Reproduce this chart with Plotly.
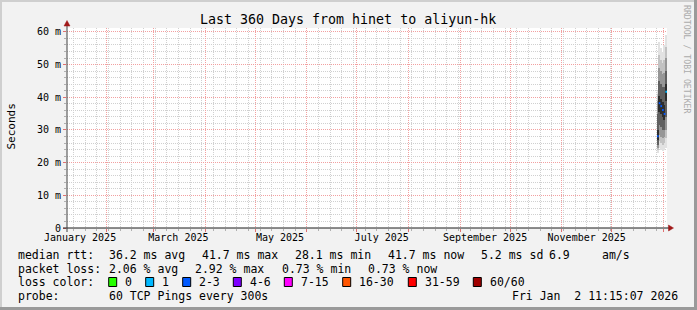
import plotly.graph_objects as go
import pandas as pd

# ---------------- data ----------------
col_dates = ["2025-12-28 17:00", "2025-12-29 17:00", "2025-12-30 17:00",
             "2025-12-31 17:00", "2026-01-01 17:00", "2026-01-02 17:00"]
rtt_min = [23.0, 24.5, 24.0, 23.5, 24.0, 24.5]
rtt_p05 = [23.8, 26.5, 26.0, 25.5, 26.0, 27.5]
rtt_p10 = [24.5, 28.5, 28.0, 27.5, 28.0, 30.0]
rtt_p20 = [25.5, 31.5, 31.0, 30.0, 30.0, 34.0]
rtt_p35 = [27.0, 35.5, 35.0, 34.0, 33.0, 39.0]
rtt_median = [28.1, 38.2, 37.3, 36.1, 34.9, 41.7]
rtt_p65 = [30.0, 40.5, 39.5, 38.5, 37.5, 44.0]
rtt_p80 = [35.0, 45.0, 44.0, 43.0, 43.0, 48.0]
rtt_p90 = [39.0, 49.0, 48.0, 47.0, 47.5, 52.0]
rtt_p95 = [41.0, 53.0, 51.5, 50.5, 51.5, 55.5]
rtt_max = [42.0, 57.0, 55.0, 54.0, 56.0, 59.0]
loss_count = [2, 2, 2, 2, 2, 1]

x_range = ["2025-01-08 04:20", "2026-01-03 04:20"]
month_starts = ["2025-02-01", "2025-03-01", "2025-04-01", "2025-05-01", "2025-06-01",
                "2025-07-01", "2025-08-01", "2025-09-01", "2025-10-01", "2025-11-01",
                "2025-12-01", "2026-01-01"]
month_label_dates = ["2025-01-16", "2025-03-16", "2025-05-16", "2025-07-16",
                     "2025-09-16", "2025-11-16"]
month_labels = ["January 2025", "March 2025", "May 2025", "July 2025",
                "September 2025", "November 2025"]
y_tickvals = [0, 10, 20, 30, 40, 50, 60]
y_ticktext = ["0", "10 m", "20 m", "30 m", "40 m", "50 m", "60 m"]
y_max = 61.2

loss_bins = ["0", "1", "2-3", "4-6", "7-15", "16-30", "31-59", "60/60"]
loss_bin_edges = [(0, 0), (1, 1), (2, 3), (4, 6), (7, 15), (16, 30), (31, 59), (60, 60)]

title = "Last 360 Days from hinet to aliyun-hk"
stats_rtt = ["36.2 ms avg", "41.7 ms max", "28.1 ms min", "41.7 ms now", "5.2 ms sd", "6.9", "am/s"]
stats_loss = ["2.06 % avg", "2.92 % max", "0.73 % min", "0.73 % now"]
probe_text = "60 TCP Pings every 300s"
stamp_text = "Fri Jan  2 11:15:07 2026"

# ---------------- style ----------------
loss_colors = ["#26ff00", "#00b8ff", "#0059ff", "#7e00ff", "#ff00ff", "#ff5500", "#ff0000", "#a00000"]
MONO = "DejaVu Sans Mono"
BG = "#f2f2f2"
L, R, T, B = 67, 30, 28, 82
W, H = 697, 310
PW, PH = W - L - R, H - T - B


def px(xpix):
    return (xpix - L) / PW


def py(ypix):
    return (H - B - ypix) / PH


fig = go.Figure()

centers = pd.to_datetime(col_dates)
day_ms = 86400000
bands = [(rtt_min, rtt_max, "#e2e2e2"), (rtt_p05, rtt_p95, "#c2c2c2"),
         (rtt_p10, rtt_p90, "#969696"), (rtt_p20, rtt_p80, "#606060"),
         (rtt_p35, rtt_p65, "#2e2e2e")]
for lo, hi, c in bands:
    fig.add_trace(go.Bar(x=centers, y=[h - l for l, h in zip(lo, hi)], base=lo,
                         width=day_ms, marker=dict(color=c, line=dict(width=0)),
                         showlegend=False, hoverinfo="skip"))

# median segments coloured by loss
for (a, b), c in zip(loss_bin_edges, loss_colors):
    xs, ys = [], []
    for ctr, m, lc in zip(centers, rtt_median, loss_count):
        if a <= lc <= b:
            xs += [ctr - pd.Timedelta(hours=12), ctr + pd.Timedelta(hours=12), None]
            ys += [m, m, None]
    if xs:
        fig.add_trace(go.Scatter(x=xs, y=ys, mode="lines", line=dict(color=c, width=2),
                                 showlegend=False, hoverinfo="skip", xaxis="x2"))

fig.update_layout(
    width=W, height=H, autosize=False,
    margin=dict(l=L, r=R, t=T, b=B, pad=0),
    paper_bgcolor=BG, plot_bgcolor="white",
    barmode="overlay", bargap=0,
    showlegend=False,
    font=dict(family=MONO, color="black", size=10),
    xaxis=dict(type="date", range=x_range, tickmode="array", tickvals=month_starts,
               showticklabels=False, showgrid=True, gridcolor="#f2a0a0", griddash="1px,1px",
               gridwidth=1, ticks="outside", ticklen=3, tickcolor="#e07070", zeroline=False,
               showline=False, automargin=False,
               minor=dict(tickmode="linear", tick0="2024-12-29", dtick=7 * day_ms,
                          showgrid=True, gridcolor="#d0d0d0", griddash="1px,1px",
                          ticks="outside", ticklen=2, tickcolor="#b0b0b0")),
    xaxis2=dict(type="date", range=x_range, overlaying="x", anchor="y", side="bottom",
                tickmode="array", tickvals=month_label_dates, ticktext=month_labels,
                showgrid=False, ticks="", zeroline=False, showline=False, automargin=False,
                ticklabelstandoff=2,
                tickfont=dict(family=MONO, size=10, color="black")),
    yaxis=dict(range=[0, y_max], tickmode="array", tickvals=y_tickvals, ticktext=y_ticktext,
               showgrid=True, gridcolor="#f2a0a0", griddash="1px,1px", zeroline=False,
               showline=False, ticks="outside", ticklen=3, tickcolor="#e07070",
               automargin=False, tickfont=dict(family=MONO, size=10, color="black"),
               minor=dict(tickmode="linear", tick0=0, dtick=2, showgrid=True,
                          gridcolor="#d0d0d0", griddash="1px,1px", ticks="outside",
                          ticklen=2, tickcolor="#b0b0b0")),
)

shapes = []
# frame (shading)
shapes.append(dict(type="rect", xref="paper", yref="paper", x0=px(0), x1=px(W), y0=py(2), y1=py(0),
                   fillcolor="#cfcfcf", line=dict(width=0), layer="above"))
shapes.append(dict(type="rect", xref="paper", yref="paper", x0=px(0), x1=px(2), y0=py(H), y1=py(0),
                   fillcolor="#cfcfcf", line=dict(width=0), layer="above"))
shapes.append(dict(type="rect", xref="paper", yref="paper", x0=px(0), x1=px(W), y0=py(H), y1=py(H - 3),
                   fillcolor="#9a9a9a", line=dict(width=0), layer="above"))
shapes.append(dict(type="rect", xref="paper", yref="paper", x0=px(W - 3), x1=px(W), y0=py(H), y1=py(0),
                   fillcolor="#9a9a9a", line=dict(width=0), layer="above"))
# axis lines
shapes.append(dict(type="line", xref="paper", yref="paper", x0=px(63), x1=px(670), y0=0, y1=0,
                   line=dict(color="#1a1a1a", width=1), layer="above"))
shapes.append(dict(type="line", xref="paper", yref="paper", x0=0, x1=0, y0=py(232), y1=py(25),
                   line=dict(color="#404040", width=1), layer="above"))
# arrows
shapes.append(dict(type="path", xref="paper", yref="paper",
                   path=f"M {px(668.5)} {py(225)} L {px(673.5)} {py(228)} L {px(668.5)} {py(231)} Z",
                   fillcolor="#a01818", line=dict(color="#a01818", width=0.5), layer="above"))
shapes.append(dict(type="path", xref="paper", yref="paper",
                   path=f"M {px(64)} {py(26)} L {px(67)} {py(20.5)} L {px(70)} {py(26)} Z",
                   fillcolor="#a01818", line=dict(color="#a01818", width=0.5), layer="above"))

annotations = []


def txt(s, xpix, ypix, size=11.5, anchor="left", color="black", angle=0):
    annotations.append(dict(text=s, xref="paper", yref="paper", x=px(xpix), y=py(ypix),
                            xanchor=anchor, yanchor="middle", showarrow=False, textangle=angle,
                            font=dict(family=MONO, size=size, color=color)))


txt(title, 348, 19, size=13.3, anchor="center")
txt("Seconds", 10.5, 127, size=11, anchor="center", angle=-90)
txt("RRDTOOL / TOBI OETIKER", 687, 59, size=8.2, anchor="center", color="#ababab", angle=90)

row1, row2, row3, row4 = 254.5, 268.5, 282, 296
txt("median rtt:", 16, row1)
for s, xp in zip(stats_rtt, [107.3, 200, 293.3, 386, 479.3, 546.7, 600]):
    txt(s, xp, row1)
txt("packet loss:", 16, row2)
for s, xp in zip(stats_loss, [107.3, 193.3, 280, 366]):
    txt(s, xp, row2)
txt("loss color:", 16, row3)
box_x = [108.7, 145.7, 182.7, 233.3, 284.3, 342.7, 408.3, 473.3]
for lab, c, bx in zip(loss_bins, loss_colors, box_x):
    shapes.append(dict(type="rect", xref="paper", yref="paper", x0=px(bx), x1=px(bx + 8),
                       y0=py(row3 + 4.5), y1=py(row3 - 4.5), fillcolor=c,
                       line=dict(color="black", width=1), layer="above"))
    txt(lab, bx + 14.5, row3)
txt("probe:", 16, row4)
txt(probe_text, 107.3, row4)
txt(stamp_text, 680, row4, anchor="right")

fig.update_layout(shapes=shapes, annotations=annotations)
fig.write_html("out.html")
